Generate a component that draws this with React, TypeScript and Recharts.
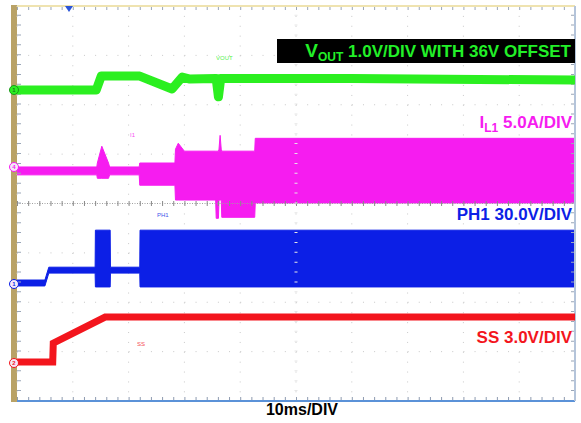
import React from "react";
import {
  ComposedChart,
  Line,
  Area,
  XAxis,
  YAxis,
  CartesianGrid,
  ReferenceLine,
} from "recharts";

// time in ms (10 ms/div), level in screen divisions counted from the bottom (8 divs)
const VOUT_TRACE = [
  { t: 0, v: 6.3 },
  { t: 14.2, v: 6.3 },
  { t: 15.1, v: 6.58 },
  { t: 22.0, v: 6.58 },
  { t: 27.8, v: 6.32 },
  { t: 29.6, v: 6.56 },
  { t: 31.0, v: 6.52 },
  { t: 35.7, v: 6.53 },
  { t: 36.1, v: 6.16 },
  { t: 36.5, v: 6.53 },
  { t: 60, v: 6.53 },
  { t: 100, v: 6.5 },
];

// switching signals: [time, envelope low, envelope high]
const IL1_ENVELOPE: [number, number, number][] = [
  [0, 4.58, 4.74],
  [14.3, 4.58, 4.74],
  [14.4, 4.51, 4.82],
  [15.2, 4.51, 5.16],
  [16.4, 4.51, 4.82],
  [16.6, 4.58, 4.74],
  [21.9, 4.58, 4.74],
  [22.0, 4.37, 4.82],
  [28.3, 4.37, 4.82],
  [28.4, 4.07, 5.1],
  [28.9, 4.07, 5.22],
  [30.0, 4.07, 5.06],
  [35.6, 4.07, 5.06],
  [35.7, 3.7, 5.06],
  [36.1, 3.7, 5.06],
  [36.2, 4.07, 5.1],
  [36.4, 4.07, 5.38],
  [36.6, 4.07, 5.1],
  [36.7, 3.72, 5.06],
  [42.6, 3.72, 5.06],
  [42.7, 4.01, 5.32],
  [100, 4.01, 5.32],
];

const PH1_ENVELOPE: [number, number, number][] = [
  [0, 2.33, 2.45],
  [5.0, 2.33, 2.45],
  [5.7, 2.59, 2.71],
  [14.0, 2.59, 2.71],
  [14.05, 2.31, 3.46],
  [16.7, 2.31, 3.46],
  [16.75, 2.59, 2.71],
  [22.0, 2.59, 2.71],
  [22.05, 2.31, 3.46],
  [100, 2.31, 3.46],
];

const SS_TRACE = [
  { t: 0, v: 0.79 },
  { t: 6.4, v: 0.79 },
  { t: 6.5, v: 1.17 },
  { t: 15.8, v: 1.7 },
  { t: 100, v: 1.7 },
];

const DIV_T = [0, 10, 20, 30, 40, 50, 60, 70, 80, 90, 100];
const DIV_V = [0, 1, 2, 3, 4, 5, 6, 7, 8];

const GREEN = "#2bef20";
const MAGENTA = "#f61cf0";
const BLUE = "#0c1fe6";
const RED = "#f3151d";
const FONT = "'Liberation Sans', Arial, sans-serif";

// dash patterns that put a mark every 1/5 division (plot is 558 x 395 px)
const MINOR_H = "1 10.16";
const MINOR_V = "1 8.88";

const toRange = (rows: [number, number, number][]) =>
  rows.map(([t, lo, hi]) => ({ t, range: [lo, hi] }));

const il1Data = toRange(IL1_ENVELOPE);
const ph1Data = toRange(PH1_ENVELOPE);

function ChannelMark({ y, color, label, filled }: { y: number; color: string; label: string; filled?: boolean }) {
  return (
    <div
      style={{
        position: "absolute",
        left: 9,
        top: y - 5,
        width: 8,
        height: 8,
        borderRadius: "50%",
        border: `1px solid ${filled ? "#1a9a1a" : color}`,
        background: filled ? color : "#f4e8f8",
        color: filled ? "#1a7a1a" : color,
        fontSize: 6,
        lineHeight: "8px",
        textAlign: "center",
        fontFamily: FONT,
        fontWeight: "bold",
      }}
    >
      {label}
    </div>
  );
}

const labelStyle = (color: string, top: number): React.CSSProperties => ({
  position: "absolute",
  right: 9,
  top,
  color,
  fontFamily: FONT,
  fontWeight: "bold",
  fontSize: 17,
  lineHeight: "17px",
  whiteSpace: "nowrap",
});

const tinyStyle = (color: string, left: number, top: number): React.CSSProperties => ({
  position: "absolute",
  left,
  top,
  color,
  fontFamily: FONT,
  fontSize: 6,
  lineHeight: "6px",
  opacity: 0.8,
});

export default function App() {
  return (
    <div style={{ position: "absolute", left: 0, top: 0, width: 581, height: 423, background: "#fff", overflow: "hidden" }}>
      <div style={{ position: "absolute", left: 11, top: 5, width: 6, height: 397, background: "#b9a266" }} />
      <ComposedChart width={581} height={423} margin={{ top: 6, right: 6, bottom: 22, left: 17 }}>
        <CartesianGrid vertical={false} horizontalValues={DIV_V} stroke="#c8c8c8" strokeDasharray={MINOR_H} />
        <CartesianGrid horizontal={false} verticalValues={DIV_T} stroke="#c8c8c8" strokeDasharray={MINOR_V} />
        <XAxis dataKey="t" type="number" domain={[0, 100]} hide allowDataOverflow />
        <YAxis type="number" domain={[0, 8]} hide allowDataOverflow />

        {/* tick marks along the screen edges and the centre line */}
        <ReferenceLine y={0} stroke="#8e9bb0" strokeDasharray={MINOR_H} strokeWidth={8} ifOverflow="hidden" />
        <ReferenceLine y={8} stroke="#9aa6b8" strokeDasharray={MINOR_H} strokeWidth={8} ifOverflow="hidden" />
        <ReferenceLine x={0} stroke="#9aa6b8" strokeDasharray={MINOR_V} strokeWidth={8} ifOverflow="hidden" />
        <ReferenceLine x={100} stroke="#9aa6b8" strokeDasharray={MINOR_V} strokeWidth={8} ifOverflow="hidden" />
        <ReferenceLine y={4} stroke="#a0a0a0" strokeDasharray="1 1.5" strokeWidth={1} />
        <ReferenceLine y={4} stroke="#8a8a8a" strokeDasharray={MINOR_H} strokeWidth={5} />
        <ReferenceLine x={50} stroke="#e6e6e6" strokeDasharray={MINOR_V} strokeWidth={3} />

        {/* screen frame */}
        <ReferenceLine y={0} stroke="#5b92d8" strokeWidth={2} />
        <ReferenceLine y={8} stroke="#efe3b0" strokeWidth={2} />
        <ReferenceLine x={100} stroke="#b4c4da" strokeWidth={2} />

        <Line
          data={VOUT_TRACE}
          dataKey="v"
          type="linear"
          stroke={GREEN}
          strokeWidth={9}
          strokeLinejoin="round"
          dot={false}
          isAnimationActive={false}
        />
        <Area
          data={il1Data}
          dataKey="range"
          type="linear"
          stroke={MAGENTA}
          strokeWidth={1}
          fill={MAGENTA}
          fillOpacity={1}
          dot={false}
          activeDot={false}
          isAnimationActive={false}
        />
        <Area
          data={ph1Data}
          dataKey="range"
          type="linear"
          stroke={BLUE}
          strokeWidth={1}
          fill={BLUE}
          fillOpacity={1}
          dot={false}
          activeDot={false}
          isAnimationActive={false}
        />
        <Line
          data={SS_TRACE}
          dataKey="v"
          type="linear"
          stroke={RED}
          strokeWidth={7}
          dot={false}
          isAnimationActive={false}
        />
      </ComposedChart>

      {/* trigger position marker */}
      <div
        style={{
          position: "absolute",
          left: 65,
          top: 6,
          width: 0,
          height: 0,
          borderLeft: "4px solid transparent",
          borderRight: "4px solid transparent",
          borderTop: "6px solid #2b55d8",
        }}
      />

      <ChannelMark y={90} color={GREEN} label="1" filled />
      <ChannelMark y={167} color={MAGENTA} label="4" />
      <ChannelMark y={284} color={BLUE} label="1" />
      <ChannelMark y={363} color={RED} label="2" />

      <div style={tinyStyle(GREEN, 216, 55)}>VOUT</div>
      <div style={tinyStyle(MAGENTA, 130, 132)}>I1</div>
      <div style={tinyStyle(BLUE, 157, 212)}>PH1</div>
      <div style={tinyStyle(RED, 137, 341)}>SS</div>

      <div
        style={{
          position: "absolute",
          left: 277,
          top: 39,
          width: 298,
          height: 24,
          background: "#000",
        }}
      />
      <div style={{ ...labelStyle(GREEN, 42), right: 10, color: "#22f028" }}>
        <span style={{ fontSize: 19 }}>V</span>
        <span style={{ fontSize: 12, position: "relative", top: 4 }}>OUT</span> 1.0V/DIV WITH 36V OFFSET
      </div>
      <div style={labelStyle(MAGENTA, 114)}>
        I<span style={{ fontSize: 12, position: "relative", top: 4 }}>L1</span> 5.0A/DIV
      </div>
      <div style={labelStyle(BLUE, 206)}>PH1 30.0V/DIV</div>
      <div style={labelStyle(RED, 329)}>SS 3.0V/DIV</div>
      <div
        style={{
          position: "absolute",
          left: 0,
          width: 604,
          top: 402,
          textAlign: "center",
          fontFamily: FONT,
          fontWeight: "bold",
          fontSize: 16,
          lineHeight: "16px",
          color: "#000",
        }}
      >
        10ms/DIV
      </div>
    </div>
  );
}
